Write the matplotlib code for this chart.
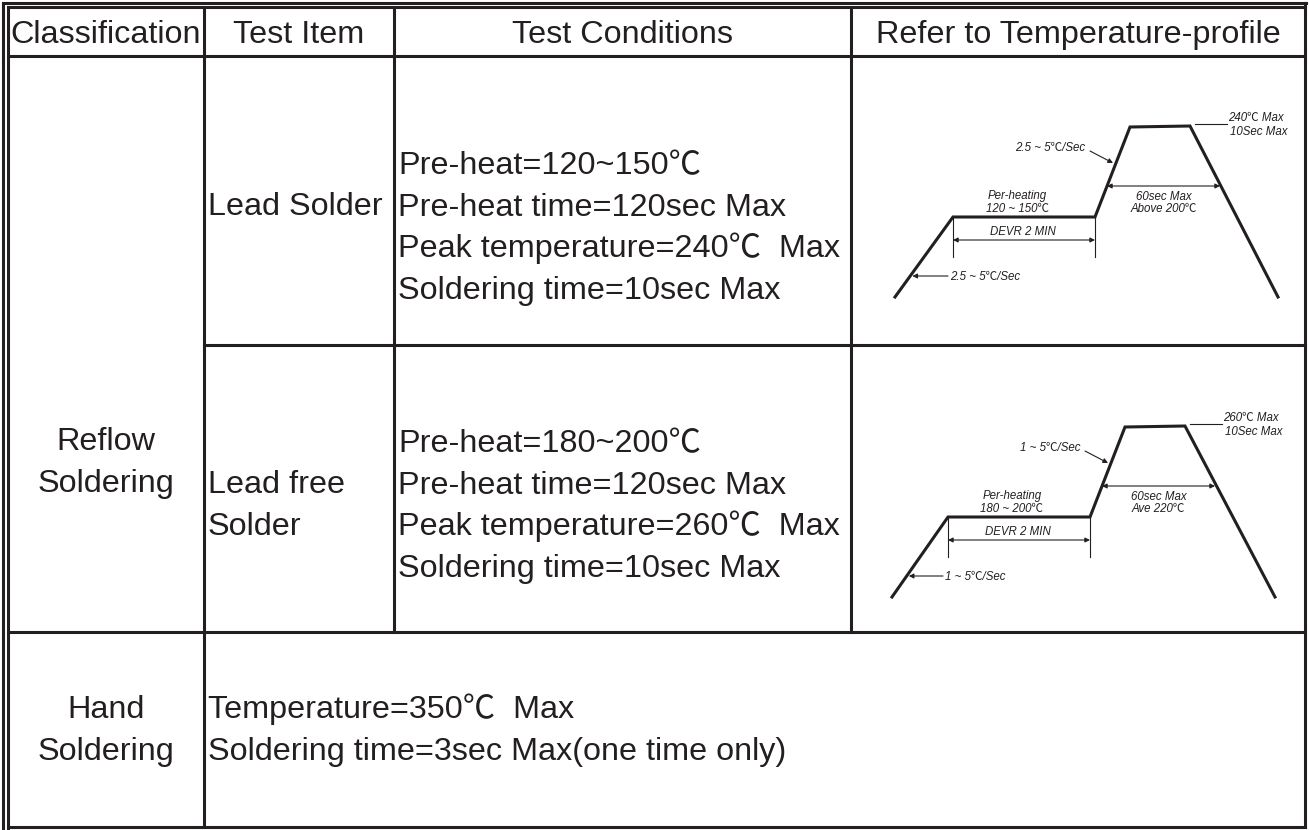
import matplotlib
matplotlib.use("Agg")
import matplotlib.pyplot as plt

W, H = 1309, 830
FONT = ["Liberation Sans", "Noto Sans CJK SC", "DejaVu Sans"]

# table geometry (pixels)
COL_EDGES = [8, 204, 394, 851, 1305]
ROW_EDGES = [7.5, 56, 345, 632, 827]

HEADERS = ["Classification", "Test Item", "Test Conditions",
           "Refer to Temperature-profile"]
CLASSES = ["Reflow", "Soldering"]
HAND_CLASS = ["Hand", "Soldering"]
ITEM_LEAD = ["Lead Solder"]
ITEM_FREE = ["Lead free", "Solder"]
COND_LEAD = ["Pre-heat=120~150℃", "Pre-heat time=120sec Max",
             "Peak temperature=240℃  Max", "Soldering time=10sec Max"]
COND_FREE = ["Pre-heat=180~200℃", "Pre-heat time=120sec Max",
             "Peak temperature=260℃  Max", "Soldering time=10sec Max"]
COND_HAND = ["Temperature=350℃  Max",
             "Soldering time=3sec Max(one time only)"]

# schematic reflow profiles (time, level) in drawing units
PROFILE_LEAD_T = [0, 58, 200, 235, 295, 383]
PROFILE_LEAD_Y = [0, 80, 80, 170, 171, 0]
PROFILE_FREE_T = [0, 56, 198, 233, 293, 383]
PROFILE_FREE_Y = [0, 80, 80, 170, 171, 0]

LEAD_LABELS = {"peak": ["240℃ Max", "10Sec Max"], "ramp": "2.5 ~ 5℃/Sec",
               "pre": ["Per-heating", "120 ~ 150℃"],
               "above": ["60sec Max", "Above 200℃"], "dwell": "DEVR 2 MIN",
               "start": "2.5 ~ 5℃/Sec"}
FREE_LABELS = {"peak": ["260℃ Max", "10Sec Max"], "ramp": "1 ~ 5℃/Sec",
               "pre": ["Per-heating", "180 ~ 200℃"],
               "above": ["60sec Max", "Ave 220℃"], "dwell": "DEVR 2 MIN",
               "start": "1 ~ 5℃/Sec"}

LW = 2.2
INK = "#231f20"

fig = plt.figure(figsize=(W / 100, H / 100), dpi=100)
ax = fig.add_axes([0, 0, 1, 1])
ax.set_xlim(0, W)
ax.set_ylim(H, 0)
ax.set_axis_off()


def hline(y, x0, x1, lw=LW):
    ax.plot([x0, x1], [y, y], color=INK, lw=lw, solid_capstyle="projecting")


def vline(x, y0, y1, lw=LW):
    ax.plot([x, x], [y0, y1], color=INK, lw=lw, solid_capstyle="projecting")


def text(x, y, s, ha="left", size=23.3, **kw):
    ax.text(x, y, s, ha=ha, va="baseline", fontsize=size, family=FONT,
            color=INK, **kw)


# outer double border
vline(2.5, 3, 828)
hline(3, 2.5, 1306)
c0, c1, c2, c3, c4 = COL_EDGES
r0, r1, r2, r3, r4 = ROW_EDGES
vline(c0, r0, 828)
hline(r0, c0, c4)
vline(c4, 3, r4)
hline(r4, c0, c4)
# inner grid
hline(r1, c0, c4)
hline(r2, c1, c4)
hline(r3, c0, c4)
vline(c1, r0, r4)
vline(c2, r0, r3)
vline(c3, r0, r3)

# headers
for i, h in enumerate(HEADERS):
    text((COL_EDGES[i] + COL_EDGES[i + 1]) / 2, 43, h, ha="center")

step = 41.5
for k, s in enumerate(CLASSES):
    text((c0 + c1) / 2, 450 + k * step, s, ha="center")
for k, s in enumerate(HAND_CLASS):
    text((c0 + c1) / 2, 718 + k * step, s, ha="center")
for k, s in enumerate(ITEM_LEAD):
    text(c1 + 4, 215 + k * step, s)
for k, s in enumerate(ITEM_FREE):
    text(c1 + 4, 493 + k * step, s)
for k, s in enumerate(COND_LEAD):
    text(c2 + 4, 174 + k * step, s)
for k, s in enumerate(COND_FREE):
    text(c2 + 4, 452 + k * step, s)
for k, s in enumerate(COND_HAND):
    text(c1 + 4, 718 + k * step, s)


def profile(x0, ybase, t, y, lab):
    """Draw one schematic profile; (x0, ybase) is its lower-left in pixels."""
    w, h = t[-1], max(y)
    pax = fig.add_axes([x0 / W, 1 - ybase / H, w / W, h / H])
    pax.set_xlim(0, w)
    pax.set_ylim(0, h)
    pax.set_axis_off()
    pax.plot(t, y, color=INK, lw=LW, solid_joinstyle="miter", clip_on=False)

    kw = dict(fontsize=8.3, style="italic", family=FONT, color=INK,
              va="center")
    thin = dict(color=INK, lw=0.8, clip_on=False)
    arr = dict(arrowstyle="-|>", color=INK, lw=0.8, mutation_scale=7,
               shrinkA=0, shrinkB=0)
    darr = dict(arrowstyle="<|-|>", color=INK, lw=0.8, mutation_scale=7,
                shrinkA=0, shrinkB=0)

    # peak label with leader
    pax.plot([t[4] + 5, t[4] + 37], [y[4] + 2, y[4] + 2], **thin)
    pax.text(t[4] + 38, y[4] + 8, lab["peak"][0], ha="left", **kw)
    pax.text(t[4] + 40, y[4] - 6, lab["peak"][1], ha="left", **kw)
    # ramp-up label with arrow onto the slope
    pax.text(t[2] - 10, 149, lab["ramp"], ha="right", **kw)
    pax.annotate("", xy=(t[2] + 18, 134), xytext=(t[2] - 5, 146),
                 arrowprops=arr, annotation_clip=False)
    # time above liquidus
    pax.annotate("", xy=(t[2] + 12, 111), xytext=(t[4] + 30, 111),
                 arrowprops=darr, annotation_clip=False)
    xm = (t[2] + t[4] + 42) / 2
    pax.text(xm, 100, lab["above"][0], ha="center", **kw)
    pax.text(xm, 88, lab["above"][1], ha="center", **kw)
    # pre-heat
    xp = (t[1] + t[2]) / 2 - 7
    pax.text(xp, 101, lab["pre"][0], ha="center", **kw)
    pax.text(xp, 88, lab["pre"][1], ha="center", **kw)
    pax.plot([t[1], t[1]], [y[1], 40], **thin)
    pax.plot([t[2], t[2]], [y[2], 40], **thin)
    pax.annotate("", xy=(t[1], 57), xytext=(t[2], 57),
                 arrowprops=darr, annotation_clip=False)
    pax.text((t[1] + t[2]) / 2 - 1, 65, lab["dwell"], ha="center", **kw)
    # initial ramp
    pax.annotate("", xy=(t[1] * 0.3, 21), xytext=(t[1] - 5, 21),
                 arrowprops=arr, annotation_clip=False)
    pax.text(t[1] - 3, 20, lab["start"], ha="left", **kw)


profile(895, 297, PROFILE_LEAD_T, PROFILE_LEAD_Y, LEAD_LABELS)
profile(892, 597, PROFILE_FREE_T, PROFILE_FREE_Y, FREE_LABELS)

fig.savefig("out.png", dpi=100)
